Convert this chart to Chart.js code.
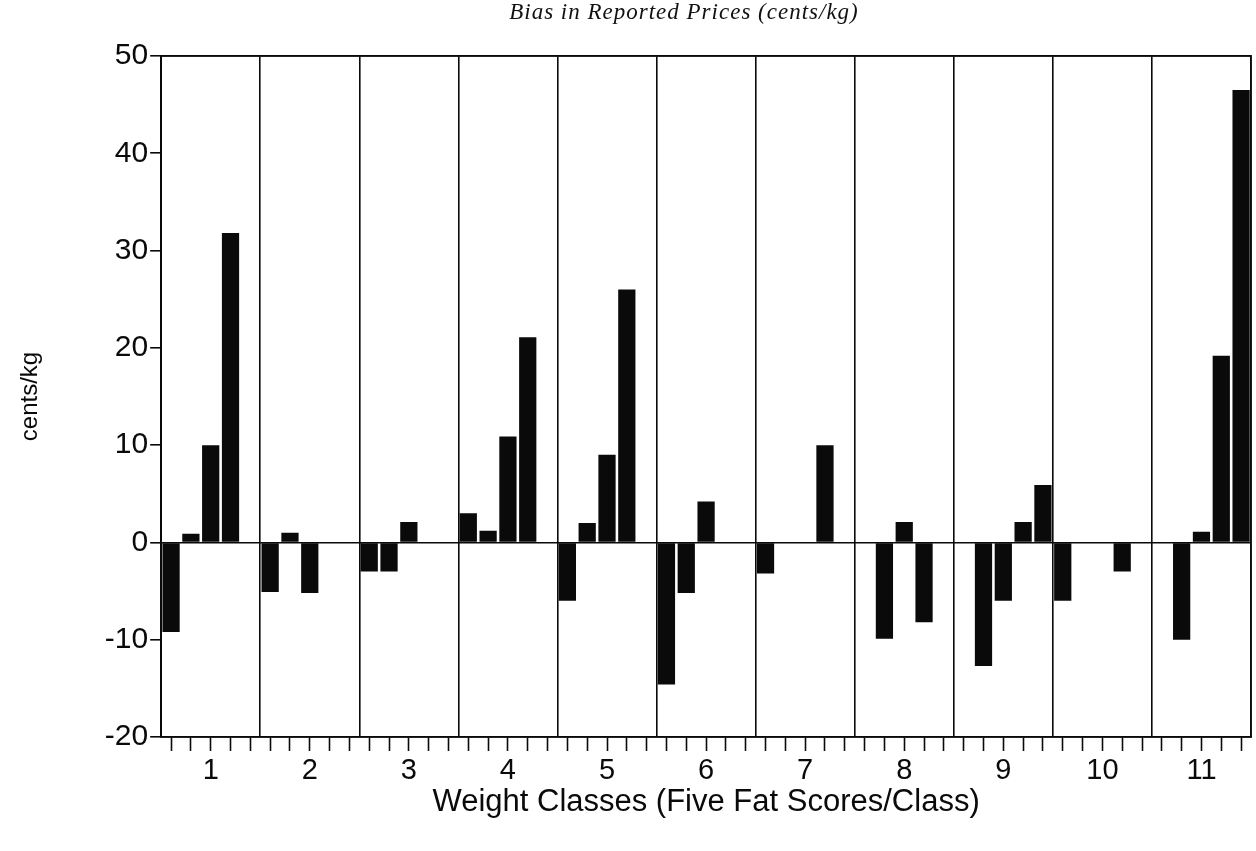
<!DOCTYPE html>
<html>
<head>
<meta charset="utf-8">
<script src="https://cdn.jsdelivr.net/npm/chart.js@4/dist/chart.umd.min.js"></script>
<style>
  html, body { margin: 0; padding: 0; background: #fff; }
  #wrap { position: relative; width: 1256px; height: 851px; }
  #heading {
    position: absolute; top: 0; left: 0; width: 1256px; text-align: center;
    font: italic 23px "Liberation Serif", "DejaVu Serif", serif; color: #111;
    letter-spacing: 1px; padding-left: 112px; box-sizing: border-box; line-height: 24px;
  }
</style>
</head>
<body>
<div id="wrap">
  <div id="heading">Bias in Reported Prices (cents/kg)</div>
  <canvas id="c" width="1256" height="851"></canvas>
</div>
<script>
// Weight classes and the five fat-score bars in each (null = no bar)
const weightClasses = ['1','2','3','4','5','6','7','8','9','10','11'];
const fatScores = ['1','2','3','4','5'];

const class1  = [-9.2,  0.9, 10.0, 31.8, null];
const class2  = [-5.1,  1.0, -5.2, null, null];
const class3  = [-3.0, -3.0,  2.1, null, null];
const class4  = [ 3.0,  1.2, 10.9, 21.1, null];
const class5  = [-6.0,  2.0,  9.0, 26.0, null];
const class6  = [-14.6, -5.2, 4.2, null, null];
const class7  = [-3.2, null, null, 10.0, null];
const class8  = [null, -9.9,  2.1, -8.2, null];
const class9  = [null, -12.7, -6.0, 2.1,  5.9];
const class10 = [-6.0, null, null, -3.0, null];
const class11 = [null, -10.0, 1.1, 19.2, 46.5];

const yTicks = [-20, -10, 0, 10, 20, 30, 40, 50];

const allClasses = [class1, class2, class3, class4, class5, class6,
                    class7, class8, class9, class10, class11];

// One category per (class, fat score) slot
const slotLabels = [];
const slotValues = [];
allClasses.forEach((vals, ci) => {
  fatScores.forEach((f, fi) => {
    slotLabels.push(weightClasses[ci] + '-' + f);
    slotValues.push(vals[fi]);
  });
});

const ink = '#0a0a0a';
const sans = '"Liberation Sans", Arial, sans-serif';

// Box round the plotting area
const frame = {
  id: 'frame',
  afterDraw(chart) {
    const a = chart.chartArea, ctx = chart.ctx;
    ctx.save();
    ctx.strokeStyle = ink;
    ctx.lineWidth = 1.6;
    ctx.strokeRect(a.left, a.top, a.right - a.left, a.bottom - a.top);
    ctx.restore();
  }
};

new Chart(document.getElementById('c'), {
  type: 'bar',
  data: {
    labels: slotLabels,
    datasets: [{
      data: slotValues,
      backgroundColor: ink,
      borderWidth: 0,
      categoryPercentage: 1.0,
      barPercentage: 0.87,
      xAxisID: 'x',
      yAxisID: 'y'
    }]
  },
  options: {
    responsive: false,
    animation: false,
    layout: { padding: { left: 16, right: 5, top: 56, bottom: 30 } },
    plugins: {
      legend: { display: false },
      tooltip: { enabled: false }
    },
    scales: {
      x: {
        type: 'category',
        position: 'bottom',
        offset: true,
        grid: {
          offset: false,
          drawOnChartArea: false,
          drawTicks: true,
          tickLength: 14,
          tickWidth: 1.6,
          color: ink,
          tickColor: ink
        },
        border: { display: true, color: ink, width: 1.6 },
        ticks: {
          autoSkip: false,
          maxRotation: 0,
          minRotation: 0,
          padding: 3,
          color: ink,
          font: { family: sans, size: 29 },
          callback: (v, i) => (i % 5 === 2 ? weightClasses[Math.floor(i / 5)] : '')
        },
        title: {
          display: true,
          text: 'Weight Classes (Five Fat Scores/Class)',
          color: ink,
          padding: { top: -8, bottom: 0 },
          font: { family: sans, size: 31 }
        }
      },
      classes: {
        type: 'category',
        labels: weightClasses,
        position: 'top',
        offset: true,
        grid: {
          offset: true,
          drawOnChartArea: true,
          drawTicks: false,
          color: ink,
          lineWidth: 1.6
        },
        border: { display: true, color: ink, width: 1.6 },
        ticks: { display: false }
      },
      y: {
        min: -20,
        max: 50,
        afterBuildTicks: axis => { axis.ticks = yTicks.map(v => ({ value: v })); },
        grid: {
          drawTicks: true,
          tickLength: 11,
          tickWidth: 1.6,
          tickColor: ink,
          lineWidth: 1.6,
          color: c => (c.tick && c.tick.value === 0 ? ink : 'rgba(0,0,0,0)')
        },
        border: { display: true, color: ink, width: 1.6 },
        ticks: {
          padding: 2,
          color: ink,
          font: { family: sans, size: 30 }
        },
        title: {
          display: true,
          text: 'cents/kg',
          color: ink,
          padding: { top: 0, bottom: 58 },
          font: { family: sans, size: 24 }
        }
      }
    }
  },
  plugins: [frame]
});
</script>
</body>
</html>
